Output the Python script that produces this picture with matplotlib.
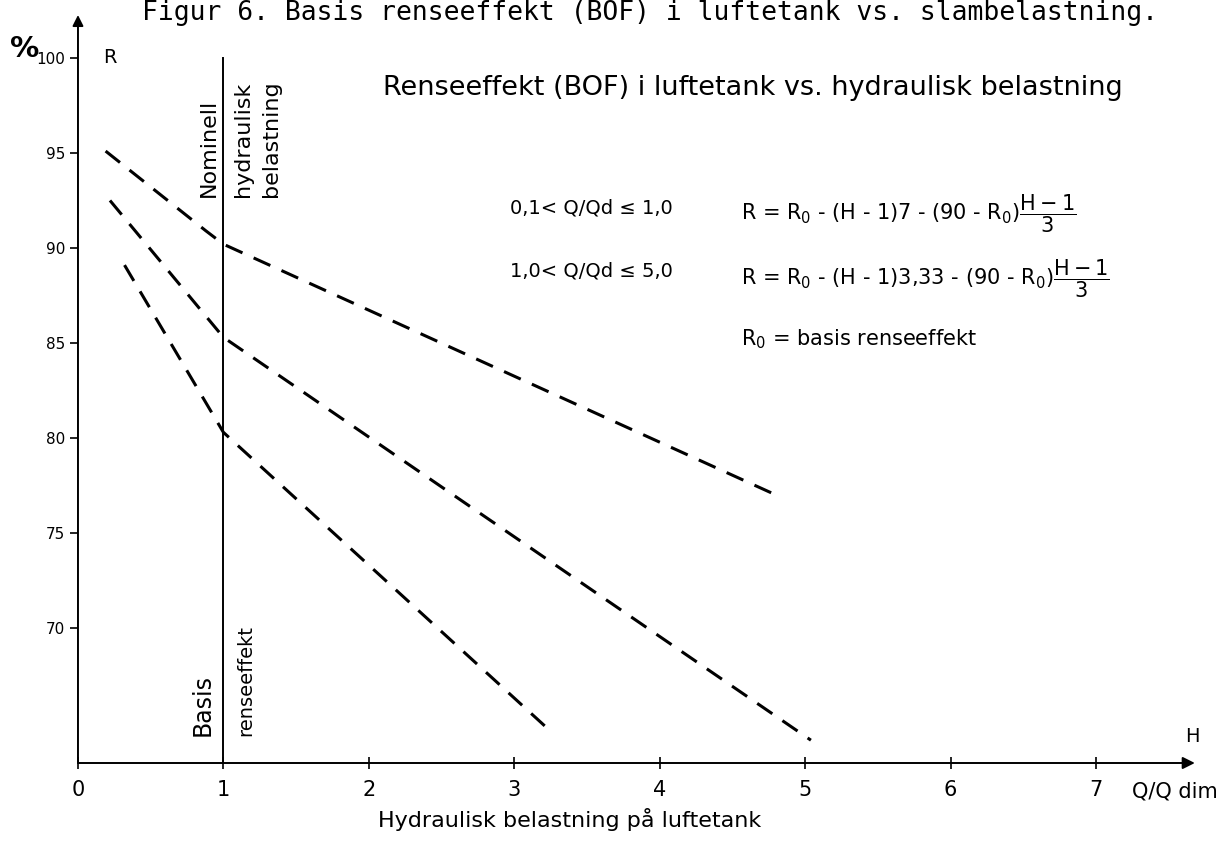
import numpy as np
import matplotlib
matplotlib.use("Agg")
import matplotlib.pyplot as plt

plt.rcParams['font.family'] = ['DejaVu Sans']
plt.rcParams['mathtext.fontset'] = 'dejavusans'

# curves: H = Q/Qdim, R = renseeffekt (%)
h_top = [0.19, 0.88, 1.0, 4.83]
r_top = [95.1, 90.9, 90.2, 76.9]
h_mid = [0.22, 1.0, 5.04]
r_mid = [92.5, 85.3, 64.1]
h_low = [0.32, 1.0, 3.26]
r_low = [89.1, 80.3, 64.5]

xticks = [0, 1, 2, 3, 4, 5, 6, 7]
yticks = [70, 75, 80, 85, 90, 95, 100]

caption = "Figur 6. Basis renseeffekt (BOF) i luftetank vs. slambelastning."
title = "Renseeffekt (BOF) i luftetank vs. hydraulisk belastning"
cond1 = "0,1< Q/Qd \u2264 1,0"
cond2 = "1,0< Q/Qd \u2264 5,0"
form1 = r"R = R$_0$ - (H - 1)7 - (90 - R$_0$)$\dfrac{\mathrm{H-1}}{\mathrm{3}}$"
form2 = r"R = R$_0$ - (H - 1)3,33 - (90 - R$_0$)$\dfrac{\mathrm{H-1}}{\mathrm{3}}$"

xmin, xmax = 0, 7.68
ymin, ymax = 62.9, 102.26

fig = plt.figure(figsize=(12.3, 8.43), dpi=100)
ax = fig.add_axes([0.0634, 0.0949, 0.908, 0.8873])
ax.set_xlim(xmin, xmax)
ax.set_ylim(ymin, ymax)
for s in ax.spines.values():
    s.set_visible(False)

# axes with arrows
ax.annotate('', xy=(xmax, ymin), xytext=(xmin, ymin),
            arrowprops=dict(arrowstyle='-|>', lw=1.4, color='k', mutation_scale=18,
                            shrinkA=0, shrinkB=0), annotation_clip=False)
ax.annotate('', xy=(xmin, ymax), xytext=(xmin, ymin),
            arrowprops=dict(arrowstyle='-|>', lw=1.4, color='k', mutation_scale=16,
                            shrinkA=0, shrinkB=0), annotation_clip=False)

ax.set_xticks(xticks)
ax.set_xticklabels([str(t) for t in xticks], fontsize=15)
ax.set_yticks(yticks)
ax.set_yticklabels([str(t) for t in yticks], fontsize=11)
ax.tick_params(axis='x', direction='inout', length=8, width=1.2, pad=8)
ax.tick_params(axis='y', direction='out', length=6, width=1.2, pad=3)

# nominal load line at H = 1
ax.plot([1, 1], [ymin, 100], color='k', lw=1.4)

for h, r in [(h_top, r_top), (h_mid, r_mid), (h_low, r_low)]:
    ax.plot(h, r, color='k', lw=2.2, ls=(0, (6, 4)), dash_capstyle='butt')

ax.set_xlabel("Hydraulisk belastning på luftetank", fontsize=16)
ax.xaxis.set_label_coords(0.44, -0.06)

ax.text(4.64, 98.4, title, fontsize=19.5, ha='center', va='center')
ax.text(2.97, 92.1, cond1, fontsize=14, ha='left', va='center')
ax.text(2.97, 88.8, cond2, fontsize=14, ha='left', va='center')
ax.text(4.56, 91.8, form1, fontsize=15, ha='left', va='center')
ax.text(4.56, 88.4, form2, fontsize=15, ha='left', va='center')
ax.text(4.56, 85.2, r"R$_0$ = basis renseeffekt", fontsize=15, ha='left', va='center')

# rotated labels along the H = 1 line
ax.annotate("Nominell", xy=(1, 92.7), xytext=(-3, 0), textcoords='offset points',
            rotation=90, ha='right', va='bottom', fontsize=16)
ax.annotate("hydraulisk", xy=(1, 92.7), xytext=(7, 0), textcoords='offset points',
            rotation=90, ha='left', va='bottom', fontsize=16)
ax.annotate("belastning", xy=(1, 92.7), xytext=(27, 0), textcoords='offset points',
            rotation=90, ha='left', va='bottom', fontsize=16)
ax.annotate("Basis", xy=(1, 64.3), xytext=(-6, 0), textcoords='offset points',
            rotation=90, ha='right', va='bottom', fontsize=17)
ax.annotate("renseeffekt", xy=(1, 64.3), xytext=(9, 0), textcoords='offset points',
            rotation=90, ha='left', va='bottom', fontsize=14)

ax.annotate("R", xy=(0, 100), xytext=(18, 0), textcoords='offset points',
            ha='left', va='center', fontsize=14)
ax.annotate("H", xy=(xmax, ymin), xytext=(-2, 12), textcoords='offset points',
            ha='center', va='bottom', fontsize=14)
ax.annotate("Q/Q dim", xy=(7.25, ymin), xytext=(0, -13), textcoords='offset points',
            ha='left', va='top', fontsize=15)

fig.text(0.008, 1 - 49 / 843, "%", fontsize=21, fontweight='bold', ha='left', va='center')
fig.text(142 / 1230, 1 - 20 / 843, caption, fontsize=19, family='DejaVu Sans Mono',
         ha='left', va='baseline')

fig.savefig("out.png", dpi=100)
